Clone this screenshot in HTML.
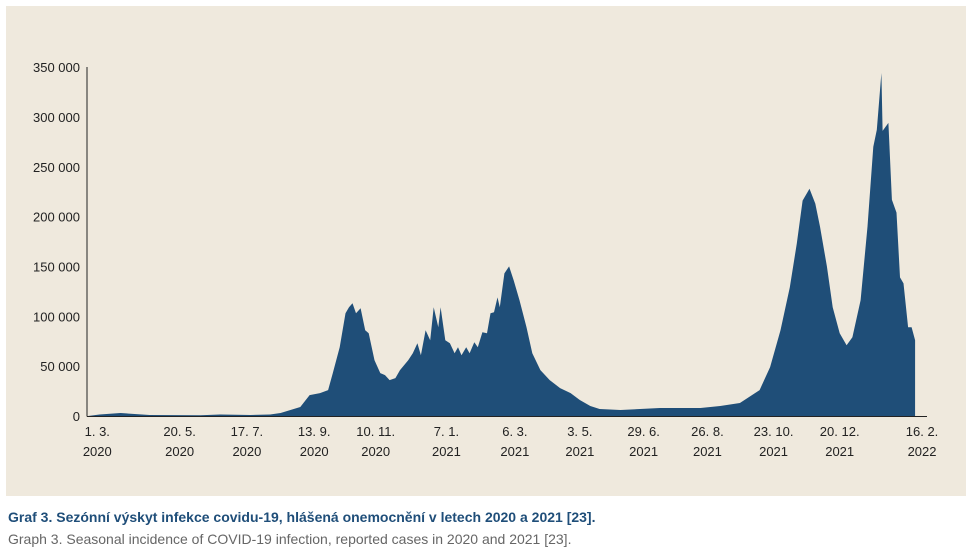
<!DOCTYPE html>
<html><head><meta charset="utf-8"><style>
body{margin:0;background:#fff;width:972px;height:556px;overflow:hidden;font-family:"Liberation Sans",sans-serif}
#panel{position:absolute;left:6px;top:6px;width:960px;height:490px;background:#efe9dd}
.cap1{position:absolute;left:8px;top:509px;font-size:14px;font-weight:bold;color:#1f4e79}
.cap2{position:absolute;left:8px;top:531px;font-size:14px;color:#666}
</style></head><body>
<div id="panel"></div>
<svg id="chart" width="972" height="556" style="position:absolute;left:0;top:0"></svg>
<div class="cap1">Graf 3. Sezónní výskyt infekce covidu-19, hlášená onemocnění v letech 2020 a 2021 [23].</div>
<div class="cap2">Graph 3. Seasonal incidence of COVID-19 infection, reported cases in 2020 and 2021 [23].</div>
<script>
const days=[0,10,28,53,97,114,140,157,166,183,191,200,207,211,217,222,225,228,231,235,239,242,247,252,256,260,265,269,276,280,284,287,291,295,298,302,304,308,312,316,319,322,326,329,333,336,340,344,347,350,353,355,359,363,367,372,378,383,390,398,407,416,424,433,441,459,493,528,545,562,579,588,597,605,611,616,622,627,631,637,642,648,654,659,666,672,677,680,684,685,690,693,697,700,703,707,710,713];
const cases=[0,1500,3000,1000,800,1500,1000,1500,3000,9000,21000,23000,26000,43000,69000,103000,109000,113000,103000,108000,86000,83000,56000,43000,41000,36000,38000,46000,56000,63000,73000,61000,86000,76000,109000,89000,109000,76000,73000,63000,69000,61000,69000,63000,74000,69000,84000,83000,103000,104000,119000,109000,143000,150000,136000,116000,89000,63000,46000,36000,28000,23000,16000,10000,7000,6000,8000,8000,10000,13000,26000,49000,86000,129000,173000,216000,228000,213000,190000,150000,109000,83000,71000,79000,116000,190000,270000,287000,344000,286000,294000,217000,204000,139000,133000,89000,89000,76000];
const yTicks=[0,50000,100000,150000,200000,250000,300000,350000];
const xTickDays=[8,79,137,195,248,309,368,424,479,534,591,648,719];
const xTickLabels=[["1. 3.","2020"],["20. 5.","2020"],["17. 7.","2020"],["13. 9.","2020"],["10. 11.","2020"],["7. 1.","2021"],["6. 3.","2021"],["3. 5.","2021"],["29. 6.","2021"],["26. 8.","2021"],["23. 10.","2021"],["20. 12.","2021"],["16. 2.","2022"]];
const svg=document.getElementById('chart');const NS='http://www.w3.org/2000/svg';
const xS=d=>88+d*1.16;const yS=v=>416-v*0.000997;
function mk(t,a){const e=document.createElementNS(NS,t);for(const k in a)e.setAttribute(k,a[k]);svg.appendChild(e);return e;}
let d='M'+xS(days[0])+','+yS(0);
days.forEach((dy,i)=>{d+=' L'+xS(dy).toFixed(1)+','+yS(cases[i]).toFixed(1);});
d+=' L'+xS(days[days.length-1])+','+yS(0)+' Z';
const area=mk('path',{d:d,fill:'#1f4e78'});


const ya=mk('line',{x1:87,y1:67,x2:87,y2:416.5,stroke:'#222','stroke-width':1});


const xa=mk('line',{x1:87,y1:416.5,x2:927,y2:416.5,stroke:'#222','stroke-width':1});


yTicks.forEach(v=>{const t=mk('text',{x:80,y:yS(v)+5,'text-anchor':'end','font-size':13,fill:'#222'});t.textContent=v===0?'0':(v/1000)+' 000';

});
xTickDays.forEach((dy,i)=>{const t=mk('text',{x:xS(dy),'text-anchor':'middle','font-size':13,fill:'#222'});


const a=document.createElementNS(NS,'tspan');a.setAttribute('x',xS(dy));a.setAttribute('y',436);a.textContent=xTickLabels[i][0];t.appendChild(a);
const b=document.createElementNS(NS,'tspan');b.setAttribute('x',xS(dy));b.setAttribute('y',456);b.textContent=xTickLabels[i][1];t.appendChild(b);});
</script>
</body></html>
